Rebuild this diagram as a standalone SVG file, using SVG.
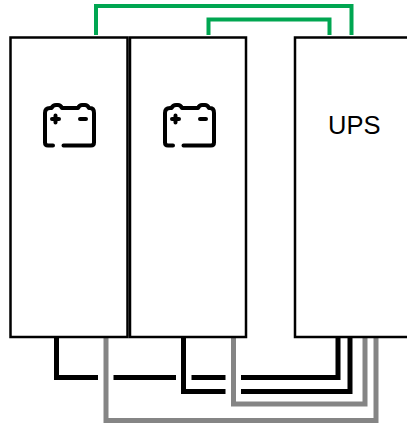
<svg xmlns="http://www.w3.org/2000/svg" width="407" height="426" viewBox="0 0 407 426">
<style>
.box{fill:#fff;stroke:#000;stroke-width:2.500}
.w{fill:none;stroke-linejoin:miter}
.g{stroke:#00a651;stroke-width:4}
.k{stroke:#000;stroke-width:5}
.y{stroke:#858585;stroke-width:5}
.b{fill:none;stroke:#000;stroke-width:4;stroke-linecap:round;stroke-linejoin:round}
text{font-family:"Liberation Sans",Arial,sans-serif;font-size:25.500px;fill:#000}
</style>
<defs>
<g id="bat">
<path class="b" d="M53 145.500H48Q45 145.500 45 142.500V113Q45 108 50 108H51.500Q53 105 56 105H58Q60.500 105 62 108H78Q79.500 105 82 105H85Q87.500 105 89 108H90Q94 108 94 113V142.500Q94 145.500 91 145.500H63.500"/>
<path class="b" d="M52 119H59M55.500 115.500V122.500M80 119H86"/>
</g>
</defs>
<g id="connectors">
<path class="w g" d="M96 35V6H351.500V35"/>
<path class="w g" d="M208.500 35V19.500H329.500V35"/>
<path class="w k" d="M56.500 338V377.500H98M113.500 377.500H176M191.500 377.500H225.500M241 377.500H338V338"/>
<path class="w k" d="M183.500 338V391.500H225.500M241 391.500H350V338"/>
<path class="w y" d="M233.500 337V404H365V337"/>
<path class="w y" d="M106 337V420.500H376V337"/>
</g>
<g id="battery1"><rect class="box" x="10.500" y="37.500" width="117" height="299.500"/><use href="#bat"/></g>
<g id="battery2"><rect class="box" x="130" y="37.500" width="116" height="299.500"/><use href="#bat" x="120"/></g>
<g id="ups"><rect class="box" x="295" y="37.500" width="114" height="299.500"/><text x="328" y="133.500">UPS</text></g>
</svg>
